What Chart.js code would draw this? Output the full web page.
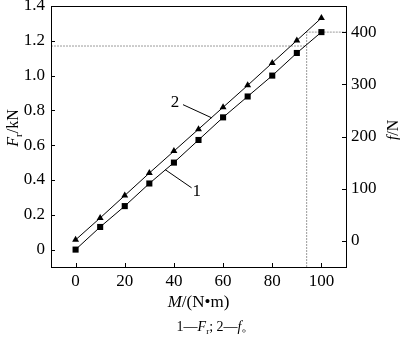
<!DOCTYPE html>
<html>
<head>
<meta charset="utf-8">
<script src="https://cdn.jsdelivr.net/npm/chart.js@4/dist/chart.umd.min.js"></script>
<style>
  html, body { margin: 0; padding: 0; background: #fff; }
  #wrap { width: 400px; height: 337px; }
</style>
</head>
<body>
<div id="wrap"><canvas id="myChart"></canvas></div>
<script>
// torque M in N·m
const torque = [0, 10, 20, 30, 40, 50, 60, 70, 80, 90, 100];
// curve 1: F_r in kN (left axis)
const forceFr = [0, 0.13, 0.25, 0.38, 0.5, 0.63, 0.76, 0.88, 1.0, 1.13, 1.25];
// curve 2: f in N (right axis)
const forceF = [2, 44, 87, 130, 172, 214, 256, 298, 341, 384, 427];

const xTicks = [0, 20, 40, 60, 80, 100];
const leftTicks = [0, 0.2, 0.4, 0.6, 0.8, 1.0, 1.2, 1.4];
const rightTicks = [0, 100, 200, 300, 400];

// dotted read-off lines
const refM = 94;
const refFr = 1.17;
const refF = 400;

// curve labels: [text, label x, label y, leader from, leader to] in left-axis units
const curveLabels = [
    ['2', 40.4, 0.845, [43.7, 0.833], [55.4, 0.757]],
    ['1', 49.3, 0.335, [36.4, 0.46], [47.2, 0.355]]
];

const SERIF = "'Liberation Serif', 'Times New Roman', serif";

function pts(xs, ys) {
    return xs.map((v, i) => ({x: v, y: ys[i]}));
}

function fixTicks(list) {
    return function (scale) {
        scale.ticks = list.map(v => ({value: v}));
    };
}

// draws a run of [text, font, dy] pieces, centred on 0,0
function drawRich(ctx, parts) {
    let total = 0;
    parts.forEach(p => { ctx.font = p[1]; total += ctx.measureText(p[0]).width; });
    let cx = -total / 2;
    parts.forEach(p => {
        ctx.font = p[1];
        ctx.fillText(p[0], cx, p[2] || 0);
        cx += ctx.measureText(p[0]).width;
    });
}

const decor = {
    id: 'decor',
    afterDraw(chart) {
        const {ctx, chartArea: a} = chart;
        const {x, y, y1} = chart.scales;
        ctx.save();
        ctx.strokeStyle = '#000';
        ctx.lineWidth = 1;
        ctx.strokeRect(Math.round(a.left) + 0.5, Math.round(a.top) + 0.5,
            Math.round(a.right - a.left), Math.round(a.bottom - a.top));

        // inward tick marks
        ctx.beginPath();
        x.ticks.forEach(t => {
            const px = Math.round(x.getPixelForValue(t.value)) + 0.5;
            ctx.moveTo(px, a.bottom);
            ctx.lineTo(px, a.bottom - 4);
        });
        y.ticks.forEach(t => {
            const py = Math.round(y.getPixelForValue(t.value)) + 0.5;
            ctx.moveTo(a.left, py);
            ctx.lineTo(a.left + 4, py);
        });
        y1.ticks.forEach(t => {
            const py = Math.round(y1.getPixelForValue(t.value)) + 0.5;
            ctx.moveTo(a.right, py);
            ctx.lineTo(a.right - 4, py);
        });
        ctx.stroke();

        // curve labels with leader lines
        ctx.fillStyle = '#000';
        ctx.textAlign = 'center';
        ctx.textBaseline = 'middle';
        ctx.font = '17px ' + SERIF;
        ctx.beginPath();
        curveLabels.forEach(c => {
            ctx.fillText(c[0], x.getPixelForValue(c[1]), y.getPixelForValue(c[2]));
            ctx.moveTo(x.getPixelForValue(c[3][0]), y.getPixelForValue(c[3][1]));
            ctx.lineTo(x.getPixelForValue(c[4][0]), y.getPixelForValue(c[4][1]));
        });
        ctx.stroke();

        // axis titles
        ctx.textAlign = 'left';
        ctx.textBaseline = 'alphabetic';
        const it = 'italic 16px ' + SERIF;
        const rg = '16px ' + SERIF;
        const sb = '11px ' + SERIF;

        ctx.save();
        ctx.translate(18, 128);
        ctx.rotate(-Math.PI / 2);
        drawRich(ctx, [['F', it], ['r', sb, 4], ['/kN', rg]]);
        ctx.restore();

        ctx.save();
        ctx.translate(398, 130);
        ctx.rotate(-Math.PI / 2);
        drawRich(ctx, [['f', it], ['/N', rg]]);
        ctx.restore();

        ctx.save();
        ctx.translate((a.left + a.right) / 2, 307);
        drawRich(ctx, [['M', 'italic 17px ' + SERIF], ['/(N\u2022m)', '17px ' + SERIF]]);
        ctx.restore();

        ctx.save();
        ctx.translate(216, 331);
        const ci = 'italic 14px ' + SERIF;
        const cr = '14px ' + SERIF;
        drawRich(ctx, [['1\u2014', cr], ['F', ci], ['r', '9px ' + SERIF, 3], ['; 2\u2014', cr], ['f', ci], ['\u3002', cr]]);
        ctx.restore();

        ctx.restore();
    }
};

const tickFont = {family: SERIF, size: 17};

new Chart(document.getElementById('myChart'), {
    type: 'line',
    data: {
        datasets: [
            {
                label: 'F_r',
                data: pts(torque, forceFr),
                yAxisID: 'y',
                borderColor: '#000',
                backgroundColor: '#000',
                borderWidth: 1,
                pointStyle: 'rect',
                pointRadius: 4.3,
                pointBorderWidth: 0,
                fill: false,
                tension: 0
            },
            {
                label: 'f',
                data: pts(torque, forceF),
                yAxisID: 'y1',
                borderColor: '#000',
                backgroundColor: '#000',
                borderWidth: 1,
                pointStyle: 'triangle',
                pointRadius: 4,
                pointBorderWidth: 0,
                fill: false,
                tension: 0
            },
            {
                label: 'ref h',
                data: [{x: -10, y: refFr}, {x: refM, y: refFr}],
                yAxisID: 'y',
                borderColor: '#9a9a9a',
                borderWidth: 1,
                borderDash: [2, 1],
                pointRadius: 0,
                order: 5
            },
            {
                label: 'ref v',
                data: [{x: refM, y: -50}, {x: refM, y: refF}, {x: 110, y: refF}],
                yAxisID: 'y1',
                borderColor: '#9a9a9a',
                borderWidth: 1,
                borderDash: [2, 1],
                pointRadius: 0,
                order: 5
            }
        ]
    },
    options: {
        responsive: true,
        maintainAspectRatio: false,
        animation: false,
        layout: {padding: {top: 6, left: 0, right: 0, bottom: 0}},
        plugins: {
            legend: {display: false},
            tooltip: {enabled: false}
        },
        scales: {
            x: {
                type: 'linear',
                min: -10,
                max: 110,
                grid: {display: false, drawTicks: false},
                border: {display: false},
                afterBuildTicks: fixTicks(xTicks),
                afterFit: s => { s.height = 70; s.paddingLeft = 0; s.paddingRight = 0; },
                ticks: {font: tickFont, color: '#000', padding: 4, maxRotation: 0}
            },
            y: {
                position: 'left',
                min: -0.1,
                max: 1.4,
                grid: {display: false, drawTicks: false},
                border: {display: false},
                afterBuildTicks: fixTicks(leftTicks),
                afterFit: s => { s.width = 51; s.paddingTop = 0; s.paddingBottom = 0; },
                ticks: {
                    font: tickFont, color: '#000', padding: 6,
                    callback: v => v === 0 ? '0' : v.toFixed(1)
                }
            },
            y1: {
                position: 'right',
                min: -50,
                max: 450,
                grid: {display: false, drawTicks: false},
                border: {display: false},
                afterBuildTicks: fixTicks(rightTicks),
                afterFit: s => { s.width = 54; s.paddingTop = 0; s.paddingBottom = 0; },
                ticks: {font: tickFont, color: '#000', padding: 5}
            }
        }
    },
    plugins: [decor]
});
</script>
</body>
</html>
